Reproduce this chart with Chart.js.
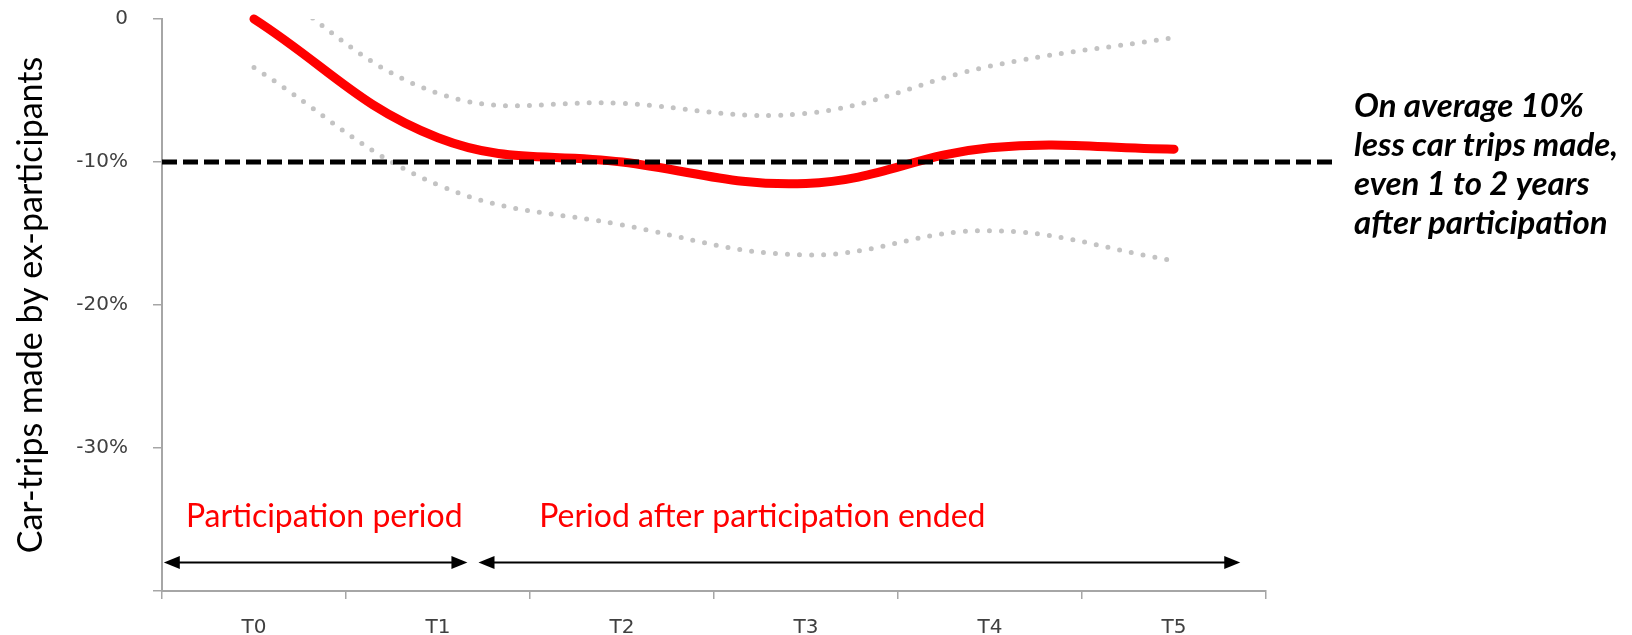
<!DOCTYPE html>
<html>
<head>
<meta charset="utf-8">
<script src="https://cdn.jsdelivr.net/npm/chart.js@4.4.1/dist/chart.umd.min.js"></script>
<style>
  html, body { margin: 0; padding: 0; background: #fff; }
  #wrap { width: 1632px; height: 635px; position: relative; }
</style>
</head>
<body>
<div id="wrap"><canvas id="chart"></canvas></div>
<script>
// Measurement moments on the x axis
var moments = ["T0", "T1", "T2", "T3", "T4", "T5"];

// Change in car trips (%) of ex-participants, mean and the two bounds
var meanChange = [0, -8.3, -10.0, -11.5, -9.0, -9.1];
var upperBound = [3.0, -5.2, -5.9, -6.6, -3.3, -1.3];
var lowerBound = [-3.4, -11.6, -14.4, -16.5, -14.8, -16.9];

// Y axis range and the reference line
var yMin = -40;
var yMax = 0;
var yStep = 10;
var averageLine = -10;

// Texts
var yTitle = "Car-trips made by ex-participants";
var averageNote = ["On average 10%", "less car trips made,", "even 1 to 2 years", "after participation"];
var periodLabels = ["Participation period", "Period after participation ended"];
// start / end of each period, in x axis units (category index)
var periodFrom = [-0.49, 1.22];
var periodTo = [1.16, 5.36];

var RED = "#ff0000";
var DOTS = "#c3c3c3";
var AXIS = "#a6a6a6";

//Arrow with a filled head on both ends
function drawArrow(ctx, x1, x2, yy) {
    ctx.lineWidth = 2;
    ctx.beginPath();
    ctx.moveTo(x1 + 10, yy);
    ctx.lineTo(x2 - 10, yy);
    ctx.stroke();
    [[x1, 1], [x2, -1]].forEach(function (h) {
        ctx.beginPath();
        ctx.moveTo(h[0], yy);
        ctx.lineTo(h[0] + h[1] * 16, yy - 6.5);
        ctx.lineTo(h[0] + h[1] * 16, yy + 6.5);
        ctx.closePath();
        ctx.fill();
    });
}

//Plugin: dashed average line, note on the right, period arrows and labels
var annotations = {
    id: "annotations",
    afterDatasetsDraw: function (chart) {
        var ctx = chart.ctx;
        var x = chart.scales.x;
        var y = chart.scales.y;
        var area = chart.chartArea;
        ctx.save();

        // -10% line, it runs past the plot up to the note
        var yAvg = y.getPixelForValue(averageLine);
        var lineEnd = x.getPixelForValue(5.87);
        ctx.strokeStyle = "#000";
        ctx.lineWidth = 5;
        ctx.setLineDash([15, 6]);
        ctx.beginPath();
        ctx.moveTo(area.left, yAvg);
        ctx.lineTo(lineEnd, yAvg);
        ctx.stroke();
        ctx.setLineDash([]);

        ctx.fillStyle = "#000";
        ctx.font = "italic bold 33px Lato";
        ctx.textAlign = "left";
        ctx.textBaseline = "alphabetic";
        averageNote.forEach(function (line, i) {
            ctx.fillText(line, lineEnd + 20, yAvg - 45 + i * 39);
        });

        // periods
        var yArrow = y.getPixelForValue(-38);
        var yText = y.getPixelForValue(-35.5);
        var textStart = [-0.37, 1.55];
        ctx.strokeStyle = "#000";
        ctx.fillStyle = "#000";
        periodLabels.forEach(function (lbl, i) {
            drawArrow(ctx, x.getPixelForValue(periodFrom[i]), x.getPixelForValue(periodTo[i]), yArrow);
        });
        ctx.fillStyle = RED;
        ctx.font = "32px Lato";
        periodLabels.forEach(function (lbl, i) {
            ctx.fillText(lbl, x.getPixelForValue(textStart[i]), yText);
        });
        ctx.restore();
    }
};

function createChart() {
    new Chart(document.getElementById("chart").getContext("2d"), {
        type: "line",
        data: {
            labels: moments,
            datasets: [{
                data: upperBound,
                borderColor: DOTS,
                borderWidth: 5,
                borderDash: [0, 12],
                borderCapStyle: "round",
                pointRadius: 0,
                tension: 0.4,
                clip: 0
            }, {
                data: lowerBound,
                borderColor: DOTS,
                borderWidth: 5,
                borderDash: [0, 12],
                borderCapStyle: "round",
                pointRadius: 0,
                tension: 0.4
            }, {
                data: meanChange,
                borderColor: RED,
                borderWidth: 9,
                borderCapStyle: "round",
                pointRadius: 0,
                tension: 0.4,
                clip: 6
            }]
        },
        options: {
            responsive: true,
            maintainAspectRatio: false,
            animation: false,
            layout: { padding: { top: 19, right: 366, bottom: 0, left: 0 } },
            plugins: { legend: { display: false }, tooltip: { enabled: false } },
            scales: {
                x: {
                    offset: true,
                    grid: { offset: true, drawOnChartArea: false, tickLength: 8, color: AXIS, lineWidth: 1.5 },
                    border: { color: AXIS, width: 2 },
                    ticks: { color: "#404040", font: { family: "DejaVu Sans", size: 20 }, padding: 17 },
                    afterFit: function (scale) {
                        scale.height = 44;
                        scale.paddingLeft = 0;
                        scale.paddingRight = 0;
                    }
                },
                y: {
                    min: yMin,
                    max: yMax,
                    grid: { drawOnChartArea: false, tickLength: 9, color: AXIS, lineWidth: 1.5 },
                    border: { color: AXIS, width: 2 },
                    ticks: {
                        stepSize: yStep,
                        color: "#404040",
                        font: { family: "DejaVu Sans", size: 20 },
                        padding: 25,
                        callback: function (v) {
                            if (v === yMin) return "";
                            return v === 0 ? "0" : v + "%";
                        }
                    },
                    title: {
                        display: true,
                        text: yTitle,
                        color: "#000",
                        font: { family: "Lato", size: 34 },
                        padding: { top: 11, bottom: 0 }
                    },
                    afterFit: function (scale) {
                        scale.width = 162;
                        scale.paddingTop = 0;
                        scale.paddingBottom = 0;
                    }
                }
            }
        },
        plugins: [annotations]
    });
}

Promise.all([
    document.fonts.load("32px Lato"),
    document.fonts.load("italic bold 33px Lato")
]).then(createChart, createChart);
</script>
</body>
</html>
